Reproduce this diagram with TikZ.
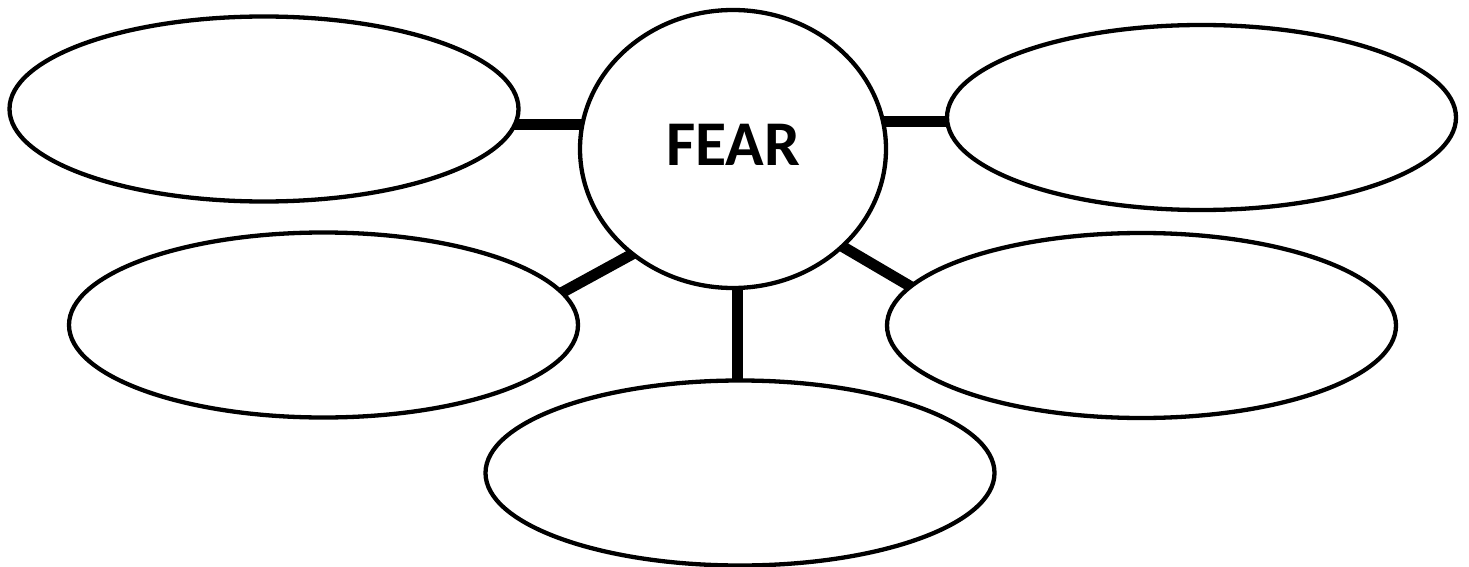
\documentclass[tikz,border=0pt]{standalone}
\usepackage{fontspec}
\setmainfont{Carlito}
\usetikzlibrary{shapes.geometric,backgrounds,calc}
\begin{document}
\begin{tikzpicture}[x=1pt,y=-1pt,
  bubble/.style={ellipse,draw,line width=4.3pt,fill=white,minimum width=509pt,minimum height=185pt,inner sep=0pt},
  hub/.style={ellipse,draw,line width=4.3pt,fill=white,minimum width=306pt,minimum height=278pt,inner sep=0pt,font=\fontsize{63.7}{70}\selectfont\bfseries,text depth=9pt},
  link/.style={line width=11pt}]
\useasboundingbox (0,0) rectangle (1469,567);
\node[hub] (c) at (733,149) {FEAR};
\node[bubble] (tl) at (264,109) {};
\node[bubble] (tr) at (1201.5,117.5) {};
\node[bubble] (ml) at (323.5,325) {};
\node[bubble] (mr) at (1141.5,325.5) {};
\node[bubble] (b) at (740,473) {};
\begin{scope}[on background layer]
\draw[link] ($(tl.center)+(0,16)$) -- ($(c.center)+(0,-24)$);
\draw[link] ($(c.center)+(0,-27.5)$) -- ($(tr.center)+(0,4)$);
\draw[link] ($(ml.center)+(220.3,-22.5)$) -- ($(c.center)+(-86.8,97.5)$);
\draw[link] ($(c.center)+(93.1,87.9)$) -- ($(mr.center)+(-214.6,-29.4)$);
\draw[link] ($(c.center)+(4.5,0)$) -- ($(b.center)+(-2.5,0)$);
\end{scope}
\end{tikzpicture}
\end{document}
